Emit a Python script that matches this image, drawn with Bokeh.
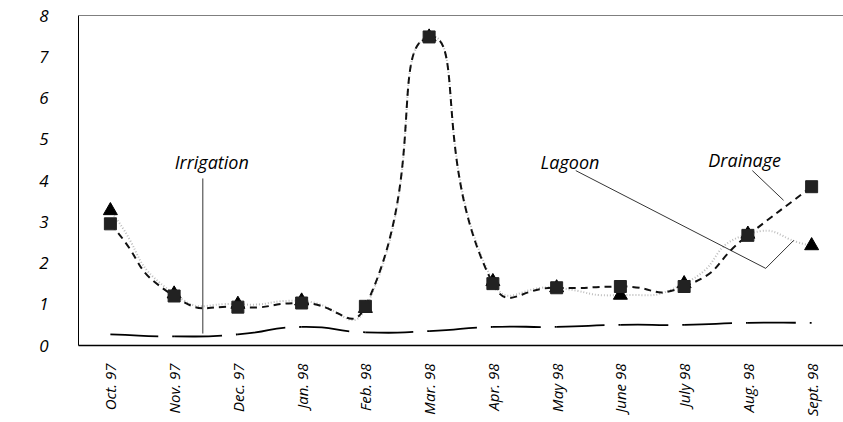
import numpy as np
from bokeh.plotting import figure
from bokeh.models import Range1d, FixedTicker, Span, Label
from bokeh.embed import file_html
from bokeh.resources import INLINE

# ---- data ----
months = ["Oct. 97", "Nov. 97", "Dec. 97", "Jan. 98", "Feb. 98", "Mar. 98",
          "Apr. 98", "May 98", "June 98", "July 98", "Aug. 98", "Sept. 98"]
drainage = [2.95, 1.20, 0.93, 1.03, 0.95, 7.48, 1.50, 1.40, 1.43, 1.43, 2.67, 3.85]
lagoon = [3.27, 1.25, 1.00, 1.08, 0.90, 7.48, 1.55, 1.40, 1.22, 1.50, 2.70, 2.42]
irrigation = [0.27, 0.22, 0.27, 0.45, 0.32, 0.35, 0.45, 0.45, 0.50, 0.50, 0.55, 0.55]
y_ticks = [0, 1, 2, 3, 4, 5, 6, 7, 8]

xs = list(range(len(months)))
FONT = "Open Sans"

# approximate pixel size of one data unit (used only to weight smoothing like a spreadsheet)
SX, SY = 63.75, 41.25


def bezier_segments(x, y, t=0.6):
    """Spreadsheet-like smoothing: cubic Bezier segments with chord-length weighted tangents."""
    n = len(x)
    P = [(x[i] * SX, y[i] * SY) for i in range(n)]
    left, right = [None] * n, [None] * n
    for i in range(n):
        a = P[i - 1] if i > 0 else P[i]
        c = P[i + 1] if i < n - 1 else P[i]
        d01 = np.hypot(P[i][0] - a[0], P[i][1] - a[1])
        d12 = np.hypot(c[0] - P[i][0], c[1] - P[i][1])
        s = d01 + d12 if d01 + d12 > 0 else 1
        fa, fb = t * d01 / s, t * d12 / s
        tx, ty = c[0] - a[0], c[1] - a[1]
        left[i] = (P[i][0] - fa * tx, P[i][1] - fa * ty)
        right[i] = (P[i][0] + fb * tx, P[i][1] + fb * ty)
    out = dict(x0=[], y0=[], x1=[], y1=[], cx0=[], cy0=[], cx1=[], cy1=[])
    for i in range(n - 1):
        out["x0"].append(x[i]); out["y0"].append(y[i])
        out["x1"].append(x[i + 1]); out["y1"].append(y[i + 1])
        out["cx0"].append(right[i][0] / SX); out["cy0"].append(right[i][1] / SY)
        out["cx1"].append(left[i + 1][0] / SX); out["cy1"].append(left[i + 1][1] / SY)
    return out


p = figure(width=843, height=422, output_backend="svg", toolbar_location=None,
           x_range=Range1d(-0.5, len(months) - 0.5), y_range=Range1d(0, 8),
           min_border_left=78, min_border_right=0, min_border_top=15,
           min_border_bottom=77)
p.outline_line_color = None
p.xgrid.visible = False
p.ygrid.visible = False
p.background_fill_color = "white"
p.border_fill_color = "white"

# top frame line
p.add_layout(Span(location=8, dimension="width", line_color="black", line_width=1))

# axes
p.xaxis.ticker = FixedTicker(ticks=xs)
p.xaxis.major_label_overrides = {i: m for i, m in enumerate(months)}
p.xaxis.major_label_orientation = np.pi / 2
p.xaxis.major_label_standoff = 12
p.xaxis.major_tick_line_color = None
p.xaxis.minor_tick_line_color = None
p.xaxis.axis_line_color = "black"
p.xaxis.axis_line_width = 1.5
p.xaxis.major_label_text_font = FONT
p.xaxis.major_label_text_font_style = "italic"
p.xaxis.major_label_text_font_size = "15px"
p.xaxis.major_label_text_color = "black"

p.yaxis.ticker = FixedTicker(ticks=y_ticks)
p.yaxis.major_tick_line_color = None
p.yaxis.minor_tick_line_color = None
p.yaxis.axis_line_color = "black"
p.yaxis.axis_line_width = 1
p.yaxis.major_label_standoff = 24
p.yaxis.major_label_text_font = FONT
p.yaxis.major_label_text_font_style = "italic"
p.yaxis.major_label_text_font_size = "17px"
p.yaxis.major_label_text_color = "black"

# y axis title placed like the original (offset above centre)
p.add_layout(Label(x=-1.44, y=4.73, text="EC (mS/cm)", angle=np.pi / 2,
                   text_align="center", text_baseline="middle",
                   text_font=FONT, text_font_style="italic",
                   text_font_size="17px", text_color="black"))

# series lines (smoothed)
p.bezier(**bezier_segments(xs, lagoon), line_color="#bdbdbd",
         line_width=2, line_dash="1 2")
p.bezier(**bezier_segments(xs, irrigation), line_color="black",
         line_width=1.8, line_dash="48 14")
p.bezier(**bezier_segments(xs, drainage), line_color="#111111",
         line_width=2, line_dash="7 5")

# markers
p.scatter(xs, lagoon, marker="triangle", size=14, color="black")
p.scatter(xs, drainage, marker="square", size=12, color="#222222")

# callout labels with leader lines
for txt, lx, ly in [("Irrigation", 1.59, 4.45), ("Lagoon", 7.21, 4.45),
                    ("Drainage", 9.95, 4.5)]:
    p.add_layout(Label(x=lx, y=ly, text=txt, text_align="center",
                       text_baseline="middle", text_font=FONT,
                       text_font_style="italic", text_font_size="18px",
                       text_color="black"))

p.line([1.45, 1.45], [4.05, 0.29], line_color="black", line_width=0.8)
p.line([7.30, 10.28, 10.72], [4.24, 1.87, 2.55], line_color="black", line_width=0.8)
p.line([10.07, 10.56], [4.24, 3.52], line_color="black", line_width=0.8)

open("out.html", "w").write(file_html(p, INLINE))
